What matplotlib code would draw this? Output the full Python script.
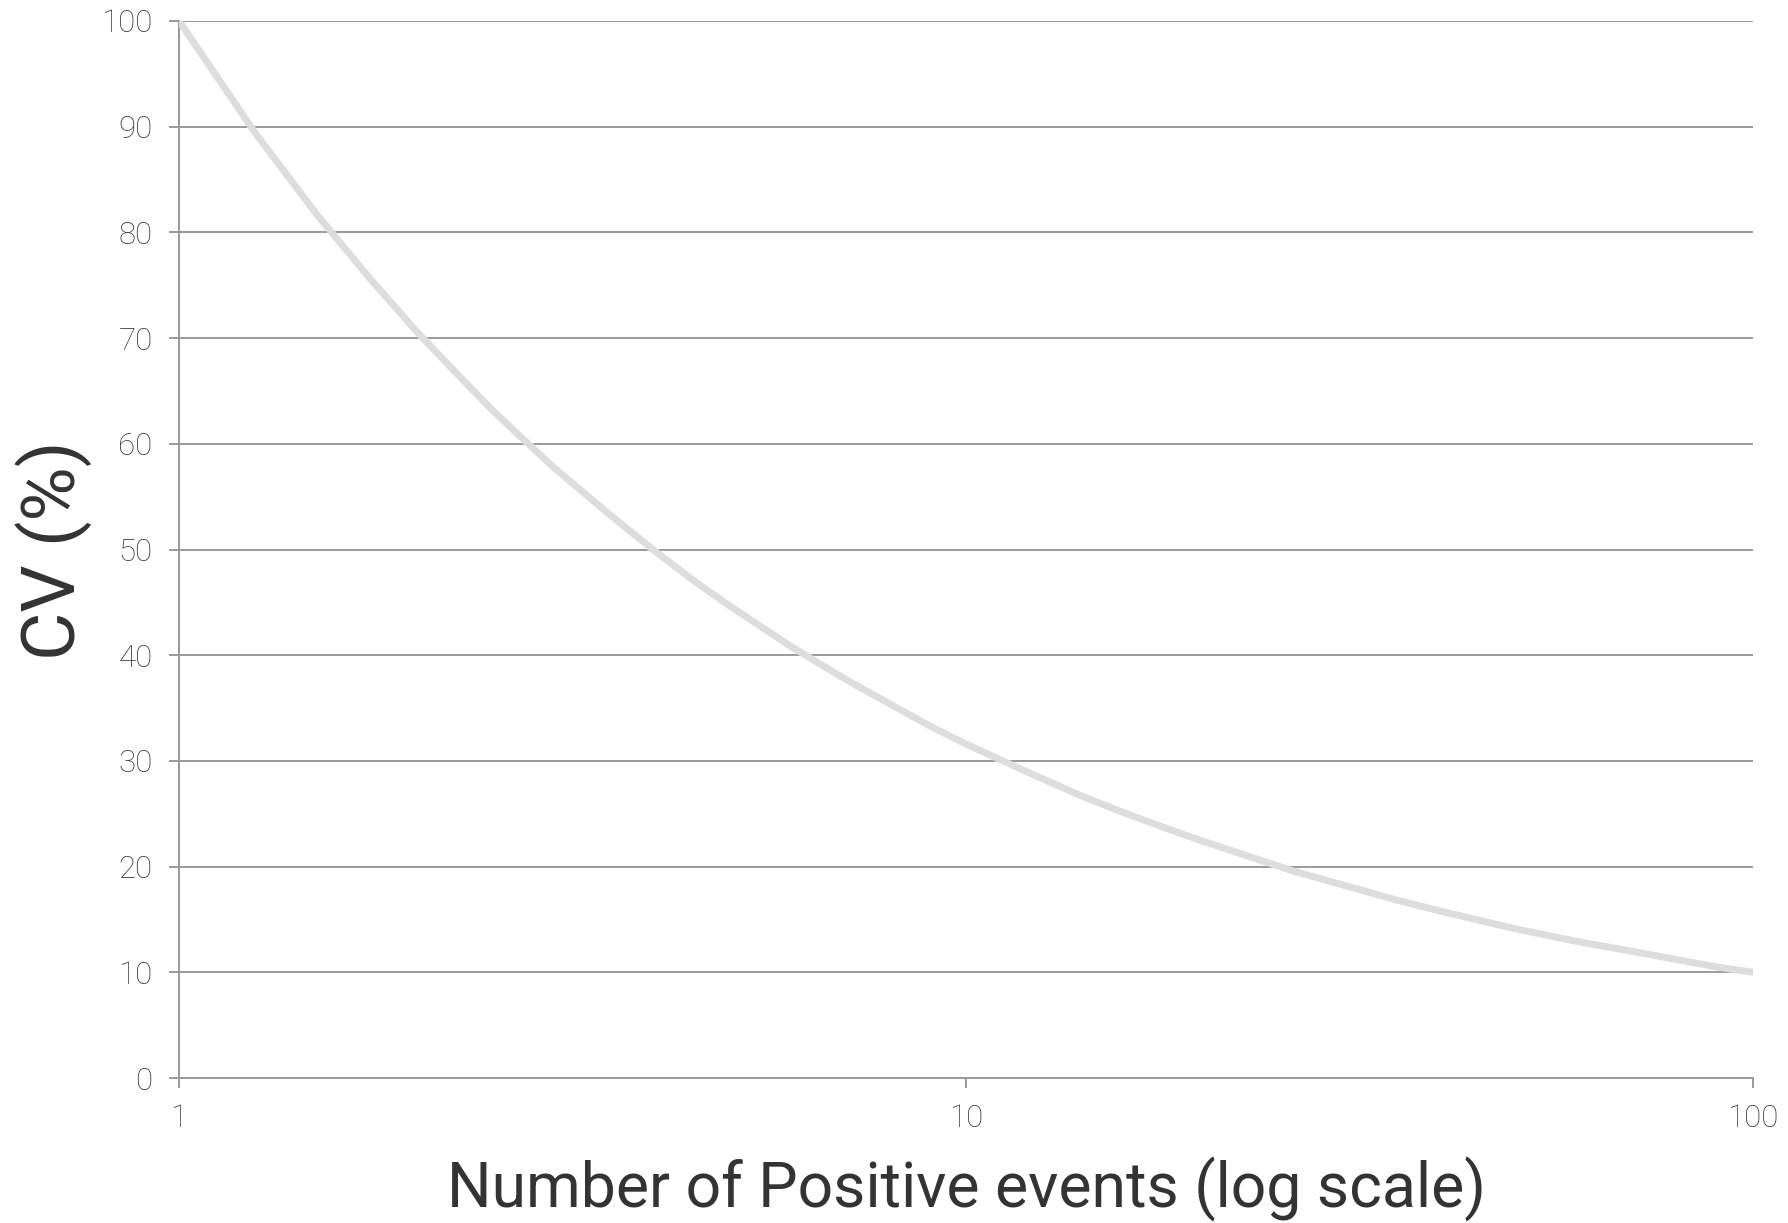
import matplotlib
matplotlib.use("Agg")
import matplotlib.pyplot as plt
from matplotlib.ticker import FixedLocator, NullLocator

# values
events = [1, 1.25, 1.5, 1.75, 2, 2.25, 2.5, 2.75, 3, 3.5, 4, 4.5, 5, 6, 7, 8, 9, 10,
          12, 14, 16, 18, 20, 23, 26, 30, 35, 40, 45, 50, 60, 70, 80, 90, 100]
cv = [100, 89.4, 81.6, 75.6, 70.7, 66.7, 63.2, 60.3, 57.7, 53.5, 50.0, 47.1, 44.7,
      40.8, 37.8, 35.4, 33.3, 31.6, 28.9, 26.7, 25.0, 23.6, 22.4, 20.9, 19.6, 18.3,
      16.9, 15.8, 14.9, 14.1, 12.9, 12.0, 11.2, 10.5, 10.0]
y_ticks = [0, 10, 20, 30, 40, 50, 60, 70, 80, 90, 100]
x_ticks = [1, 10, 100]
x_labels = ["1", "10", "100"]

fig = plt.figure(figsize=(17.88, 12.23), dpi=100)
ax = fig.add_axes([179 / 1788, 1 - 1078 / 1223, (1753 - 179) / 1788, (1078 - 21) / 1223])

ax.set_xscale("log")
ax.set_xlim(1, 100)
ax.set_ylim(0, 100)

for y in y_ticks:
    ax.axhline(y, color="#9a9a9a", lw=1.4, zorder=1)

ax.plot(events, cv, color="#dddddd", lw=5, solid_capstyle="round",
        solid_joinstyle="round", zorder=3)

ax.xaxis.set_major_locator(FixedLocator(x_ticks))
ax.xaxis.set_minor_locator(NullLocator())
ax.set_xticklabels(x_labels)
ax.set_yticks(y_ticks)

for s in ["top", "right"]:
    ax.spines[s].set_visible(False)
for s in ["left", "bottom"]:
    ax.spines[s].set_color("#9a9a9a")
    ax.spines[s].set_linewidth(1.4)

ax.tick_params(axis="both", length=7, width=1.4, color="#9a9a9a", pad=12,
               labelsize=22.5, labelcolor="#3a3a3a")
for lab in ax.get_xticklabels() + ax.get_yticklabels():
    lab.set_fontfamily("Roboto")
    lab.set_fontweight("light")

# axis titles placed in figure coordinates
fig.text(0.5 * (179 + 1753) / 1788, 1 - 1189 / 1223, "Number of Positive events (log scale)",
         fontsize=45, color="#333333", family="Roboto", ha="center", va="center")
fig.text(54 / 1788, 1 - 550 / 1223, "CV (%)", rotation=90, fontsize=53.5,
         color="#333333", family="Roboto", ha="center", va="center")

fig.savefig("out.png", dpi=100)
